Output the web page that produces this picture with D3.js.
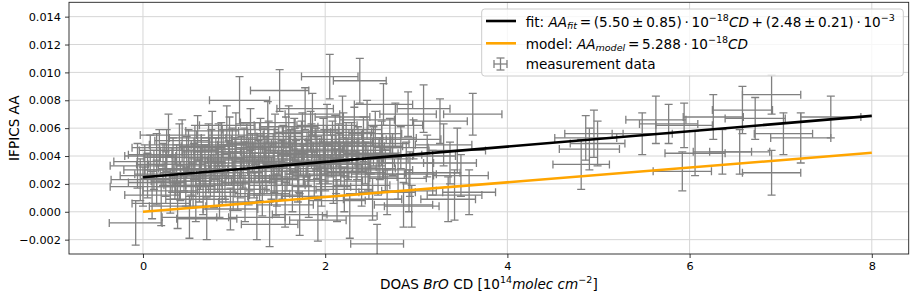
<!DOCTYPE html>
<html><head><meta charset="utf-8">
<script src="https://cdn.jsdelivr.net/npm/d3@7"></script>
<style>
body{margin:0;background:#fff}
svg{display:block}
text{font-family:"DejaVu Sans",sans-serif;fill:#000}
</style>
</head><body>
<svg id="c" width="913" height="291"></svg>
<script>
// ---------- data (DOAS BrO CD in 1e14 molec/cm2, IFPICS AA) ----------
const measX = [
 -0.08,-0.06,-0.03,0.00,0.02,0.05,0.08,0.10,0.12,0.15,0.18,0.20,0.22,0.25,0.28,0.30,
 0.33,0.35,0.38,0.40,0.43,0.45,0.47,0.50,0.51,0.53,0.56,0.58,0.60,0.62,0.64,0.66,0.68,0.70,0.72,0.74,0.76,0.78,0.80,
 0.82,0.84,0.86,0.88,0.90,0.92,0.94,0.96,0.98,1.00,1.02,1.04,1.06,1.08,1.10,1.12,1.14,1.16,1.18,1.20,1.22,1.25,1.27,1.29,
 1.31,1.33,1.35,1.37,1.39,1.41,1.43,1.45,1.47,1.50,1.52,1.54,1.56,1.58,1.60,1.62,1.64,1.66,1.68,1.70,1.72,1.74,1.76,1.78,
 1.80,1.82,1.84,1.86,1.88,1.90,1.92,1.94,1.96,1.98,2.00,2.02,2.05,2.07,2.09,2.11,2.13,2.15,2.17,2.19,2.21,2.23,2.25,2.27,
 2.30,2.32,2.34,2.36,2.38,2.40,2.42,2.44,2.46,2.48,2.50,2.52,2.55,2.57,2.60,2.62,2.64,2.66,2.68,2.71,2.74,2.77,2.80,2.83,2.86,2.89,2.91,2.92,2.93,2.95,2.97,
 3.08,3.12,3.18,3.26,3.30,3.35,3.37,3.42,3.45,3.49,3.58,3.62,
 0.15,0.32,0.41,0.48,0.57,0.63,0.69,0.75,0.83,0.87,0.95,1.01,1.07,1.11,1.17,1.23,1.28,1.34,1.38,1.44,1.49,1.53,1.57,1.61,1.67,1.71,1.75,1.81,1.85,1.91,1.95,1.99,2.03,2.08,2.12,2.16,2.20,2.24,2.29,2.35,2.41,2.47,2.53,2.58,2.63,0.26,0.37,0.55,0.99,1.46,
 4.81,4.86,4.90,4.95,4.99,5.48,5.63,5.77,5.94,5.92,6.06,6.26,6.36,6.55,6.58,6.90,6.72,6.90,7.03,7.22,7.55
];
const measY = [
 -0.0008,0.0033,0.0023,0.0018,0.0036,0.0026,0.0040,0.0012,0.0030,0.0021,0.0046,0.0006,0.0034,0.0027,0.0055,0.0015,
 0.0039,0.0024,0.0004,0.0048,0.0051,0.0031,0.0018,0.0044,-0.0004,0.0028,0.0036,0.0009,0.0053,0.0022,0.0041,0.0014,0.0033,-0.0005,0.0047,0.0026,0.0058,0.0019,0.0038,
 0.0030,0.0011,0.0050,0.0043,0.0024,0.0062,0.0035,0.0002,0.0045,0.0028,0.0055,0.0016,0.0080,0.0039,0.0033,0.0007,0.0048,0.0021,0.0059,0.0042,0.0026,-0.0004,0.0036,0.0052,
 0.0013,0.0046,0.0031,0.0064,-0.0009,0.0024,0.0040,0.0056,0.0019,0.0087,0.0035,0.0047,0.0005,0.0029,0.0061,0.0043,0.0015,0.0052,0.0037,0.0023,-0.0002,0.0049,0.0033,0.0074,
 0.0041,0.0011,0.0058,0.0070,0.0027,0.0045,-0.0006,0.0036,0.0018,0.0052,0.0031,0.0062,0.0097,0.0040,0.0022,0.0055,0.0008,0.0047,0.0034,0.0068,0.0016,0.0050,0.0038,-0.0003,
 0.0044,0.0059,0.0028,0.0047,0.0094,0.0019,0.0052,0.0035,0.0066,0.0025,0.0042,0.0009,0.0056,-0.0023,0.0038,0.0049,0.0077,0.0030,0.0014,0.0053,0.0041,0.0062,0.0024,0.0046,0.0005,0.0035,0.0070,0.0015,0.0027,0.0004,0.0052,
 0.0074,0.0040,0.0028,0.0065,0.0048,0.0009,0.0035,0.0012,0.0044,0.0026,0.0014,0.0070,
 0.0041,0.0030,0.0022,0.0039,0.0046,0.0031,0.0025,0.0043,0.0048,0.0020,0.0053,0.0037,0.0024,0.0045,0.0031,0.0049,0.0022,0.0038,0.0050,0.0029,0.0042,0.0025,0.0054,0.0034,0.0044,0.0029,0.0057,0.0035,0.0048,0.0039,0.0026,0.0043,0.0034,0.0050,0.0029,0.0041,0.0057,0.0032,0.0049,0.0038,0.0044,0.0031,0.0047,0.0027,0.0040,0.0044,0.0034,0.0019,0.0016,0.0012,
 0.0034,0.0053,0.0045,0.0056,0.0049,0.0056,0.0066,0.0063,0.0062,0.0029,0.0042,0.0068,0.0043,0.0043,0.0073,0.0084,0.0067,0.0028,0.0056,0.0053,0.0068
];
const measXErr = [
 0.29,0.30,0.32,0.36,0.34,0.30,0.28,0.30,0.33,0.31,0.30,0.32,0.29,0.34,0.31,0.30,
 0.32,0.30,0.31,0.33,0.30,0.28,0.32,0.31,0.30,0.34,0.30,0.33,0.31,0.29,0.32,0.30,0.31,0.33,0.30,0.32,0.29,0.31,0.30,
 0.33,0.31,0.30,0.32,0.29,0.30,0.31,0.30,0.33,0.31,0.30,0.32,0.33,0.30,0.31,0.29,0.32,0.30,0.31,0.33,0.30,0.31,0.29,0.32,
 0.30,0.31,0.33,0.30,0.31,0.29,0.32,0.30,0.31,0.32,0.30,0.33,0.31,0.30,0.32,0.29,0.31,0.30,0.32,0.31,0.30,0.33,0.30,0.31,
 0.32,0.30,0.31,0.30,0.32,0.29,0.31,0.30,0.32,0.31,0.30,0.33,0.31,0.30,0.32,0.29,0.31,0.30,0.32,0.30,0.31,0.29,0.32,0.30,
 0.31,0.30,0.32,0.29,0.29,0.31,0.30,0.32,0.30,0.31,0.30,0.32,0.29,0.29,0.31,0.30,0.32,0.30,0.31,0.29,0.32,0.30,0.31,0.30,0.32,0.30,0.31,0.30,0.29,0.30,0.30,
 0.29,0.31,0.30,0.30,0.31,0.30,0.29,0.30,0.31,0.30,0.29,0.32,
 0.31,0.30,0.32,0.29,0.33,0.30,0.31,0.32,0.30,0.29,0.31,0.30,0.32,0.29,0.33,0.30,0.31,0.32,0.30,0.29,0.31,0.30,0.32,0.29,0.33,0.30,0.31,0.32,0.30,0.29,0.31,0.30,0.32,0.29,0.33,0.30,0.31,0.32,0.30,0.29,0.31,0.30,0.32,0.29,0.33,0.30,0.31,0.32,0.30,0.29,
 0.31,0.34,0.33,0.32,0.30,0.33,0.33,0.32,0.31,0.32,0.33,0.33,0.32,0.33,0.33,0.32,0.33,0.32,0.32,0.33,0.33
];
const measYErr = [
 0.0016,0.0016,0.0015,0.0014,0.0012,0.0016,0.0015,0.0017,0.0014,0.0016,0.0013,0.0016,0.0015,0.0016,0.0015,0.0016,
 0.0014,0.0015,0.0016,0.0015,0.0015,0.0016,0.0014,0.0015,0.0015,0.0016,0.0013,0.0016,0.0016,0.0015,0.0014,0.0016,0.0015,0.0015,0.0016,0.0015,0.0014,0.0016,0.0015,
 0.0016,0.0015,0.0014,0.0016,0.0015,0.0014,0.0016,0.0015,0.0015,0.0014,0.0016,0.0015,0.0017,0.0015,0.0016,0.0014,0.0015,0.0016,0.0015,0.0014,0.0016,0.0016,0.0015,0.0015,
 0.0016,0.0014,0.0015,0.0015,0.0016,0.0015,0.0016,0.0014,0.0015,0.0015,0.0016,0.0015,0.0016,0.0014,0.0015,0.0016,0.0015,0.0015,0.0014,0.0016,0.0015,0.0016,0.0015,0.0015,
 0.0016,0.0015,0.0014,0.0015,0.0016,0.0015,0.0015,0.0016,0.0014,0.0015,0.0016,0.0015,0.0016,0.0015,0.0016,0.0014,0.0015,0.0016,0.0015,0.0015,0.0016,0.0014,0.0015,0.0016,
 0.0015,0.0016,0.0015,0.0014,0.0016,0.0015,0.0016,0.0015,0.0014,0.0016,0.0015,0.0015,0.0016,0.0014,0.0015,0.0016,0.0015,0.0015,0.0016,0.0014,0.0015,0.0016,0.0015,0.0015,0.0016,0.0015,0.0016,0.0015,0.0016,0.0015,0.0014,
 0.0017,0.0015,0.0016,0.0016,0.0015,0.0016,0.0015,0.0018,0.0016,0.0015,0.0016,0.0015,
 0.0015,0.0016,0.0014,0.0015,0.0016,0.0015,0.0014,0.0016,0.0015,0.0015,0.0015,0.0016,0.0014,0.0015,0.0016,0.0015,0.0014,0.0016,0.0015,0.0015,0.0015,0.0016,0.0014,0.0015,0.0016,0.0015,0.0014,0.0016,0.0015,0.0015,0.0015,0.0016,0.0014,0.0015,0.0016,0.0015,0.0014,0.0016,0.0015,0.0015,0.0015,0.0016,0.0014,0.0015,0.0016,0.0015,0.0014,0.0016,0.0015,0.0015,
 0.0018,0.0016,0.0015,0.0017,0.0016,0.0015,0.0017,0.0014,0.0016,0.0014,0.0016,0.0016,0.0016,0.0016,0.0017,0.0014,0.0015,0.0016,0.0015,0.0018,0.0015
];
// fit and model lines: AA = slope * CD(1e14) + intercept
const fitSlope = 5.50e-4, fitIntercept = 2.48e-3;
const modelSlope = 5.288e-4, modelIntercept = 0;
const lineCD = [0, 8];
const xTicks = [0, 2, 4, 6, 8];
const yTicks = [-0.002, 0, 0.002, 0.004, 0.006, 0.008, 0.010, 0.012, 0.014];
const xDomain = [-0.812, 8.405];
const yDomain = [-0.00303, 0.01503];

// ---------- layout ----------
const svg = d3.select("#c");
const P = {l: 69, r: 908.7, t: 2.3, b: 254};
const x = d3.scaleLinear().domain(xDomain).range([P.l, P.r]);
const y = d3.scaleLinear().domain(yDomain).range([P.b, P.t]);
const GRAY = "#808080", GRID = "#d6d6d6";
const tickFs = 11.3, labFs = 13.6;

svg.append("rect").attr("width", 913).attr("height", 291).attr("fill", "#fff");
svg.append("defs").append("clipPath").attr("id", "pc")
  .append("rect").attr("x", P.l).attr("y", P.t).attr("width", P.r - P.l).attr("height", P.b - P.t);

// grid
const grid = svg.append("g");
grid.selectAll(".gx").data(xTicks).join("line")
  .attr("x1", d => x(d)).attr("x2", d => x(d)).attr("y1", P.t).attr("y2", P.b)
  .attr("stroke", GRID).attr("stroke-width", 1);
grid.selectAll(".gy").data(yTicks).join("line")
  .attr("y1", d => y(d)).attr("y2", d => y(d)).attr("x1", P.l).attr("x2", P.r)
  .attr("stroke", GRID).attr("stroke-width", 1);

// error bars
const n = Math.min(measX.length, measY.length, measXErr.length, measYErr.length);
const pts = d3.range(n).map(i => ({x: measX[i], y: measY[i], xe: measXErr[i], ye: measYErr[i]}));
const cap = 4;
const eb = svg.append("g").attr("clip-path", "url(#pc)")
  .attr("stroke", GRAY).attr("stroke-width", 1.3).attr("fill", "none");
const g = eb.selectAll("g").data(pts).join("g");
g.append("line").attr("x1", d => x(d.x - d.xe)).attr("x2", d => x(d.x + d.xe)).attr("y1", d => y(d.y)).attr("y2", d => y(d.y));
g.append("line").attr("x1", d => x(d.x)).attr("x2", d => x(d.x)).attr("y1", d => y(d.y - d.ye)).attr("y2", d => y(d.y + d.ye));
g.append("line").attr("x1", d => x(d.x - d.xe)).attr("x2", d => x(d.x - d.xe)).attr("y1", d => y(d.y) - cap).attr("y2", d => y(d.y) + cap);
g.append("line").attr("x1", d => x(d.x + d.xe)).attr("x2", d => x(d.x + d.xe)).attr("y1", d => y(d.y) - cap).attr("y2", d => y(d.y) + cap);
g.append("line").attr("x1", d => x(d.x) - cap).attr("x2", d => x(d.x) + cap).attr("y1", d => y(d.y - d.ye)).attr("y2", d => y(d.y - d.ye));
g.append("line").attr("x1", d => x(d.x) - cap).attr("x2", d => x(d.x) + cap).attr("y1", d => y(d.y + d.ye)).attr("y2", d => y(d.y + d.ye));

// fit + model lines
const lineGen = (s, b) => d3.line().x(d => x(d)).y(d => y(s * d + b));
svg.append("path").datum(lineCD).attr("d", lineGen(fitSlope, fitIntercept))
  .attr("stroke", "#000").attr("stroke-width", 2.6).attr("fill", "none");
svg.append("path").datum(lineCD).attr("d", lineGen(modelSlope, modelIntercept))
  .attr("stroke", "#ffa500").attr("stroke-width", 2.6).attr("fill", "none");

// axes
const ax = svg.append("g").attr("transform", `translate(0,${P.b})`)
  .call(d3.axisBottom(x).tickValues(xTicks).tickFormat(d3.format("d")).tickSize(4).tickPadding(4));
const ay = svg.append("g").attr("transform", `translate(${P.l},0)`)
  .call(d3.axisLeft(y).tickValues(yTicks).tickFormat(d3.format(".3f")).tickSize(4).tickPadding(4));
[ax, ay].forEach(a => {
  a.select(".domain").remove();
  a.selectAll(".tick line").attr("stroke", "#222").attr("stroke-width", 0.9);
  a.selectAll(".tick text").attr("font-size", tickFs).attr("font-family", "DejaVu Sans").attr("fill", "#000");
});
svg.append("rect").attr("x", P.l).attr("y", P.t).attr("width", P.r - P.l).attr("height", P.b - P.t)
  .attr("fill", "none").attr("stroke", "#222").attr("stroke-width", 0.9);

// rich text helper
function rich(t, segs, fs) {
  let cur = 0;
  segs.forEach(([s, it, pos]) => {
    const target = pos === "sup" ? -0.42 * fs : pos === "sub" ? 0.22 * fs : 0;
    const ts = t.append("tspan").text(s)
      .attr("font-size", pos ? fs * 0.7 : fs)
      .attr("font-style", it ? "italic" : "normal");
    if (target !== cur) { ts.attr("dy", target - cur); cur = target; }
  });
}
const TS = "\u2009";

// axis labels
rich(svg.append("text").attr("x", (P.l + P.r) / 2).attr("y", 288.5).attr("text-anchor", "middle"),
  [["DOAS ", 0], ["BrO", 1], [" CD [10", 0], ["14", 0, "sup"], ["molec cm", 1], ["\u22122", 0, "sup"], ["]", 0]], labFs);
svg.append("text").attr("transform", `translate(19,${(P.t + P.b) / 2}) rotate(-90)`)
  .attr("text-anchor", "middle").attr("font-size", labFs).text("IFPICS AA");

// legend
const L = svg.append("g");
L.append("rect").attr("x", 481.7).attr("y", 9).attr("width", 421.6).attr("height", 67).attr("rx", 3)
  .attr("fill", "#fff").attr("fill-opacity", 0.8).attr("stroke", "#cccccc").attr("stroke-width", 1);
L.append("line").attr("x1", 486).attr("x2", 516).attr("y1", 21).attr("y2", 21).attr("stroke", "#000").attr("stroke-width", 2.6);
L.append("line").attr("x1", 486).attr("x2", 516).attr("y1", 43.3).attr("y2", 43.3).attr("stroke", "#ffa500").attr("stroke-width", 2.6);
const lh = L.append("g").attr("stroke", GRAY).attr("stroke-width", 1.3);
const hx = 500.5, hy = 64, hw = 6.5, hh = 6;
lh.append("line").attr("x1", hx - hw).attr("x2", hx + hw).attr("y1", hy).attr("y2", hy);
lh.append("line").attr("x1", hx).attr("x2", hx).attr("y1", hy - hh).attr("y2", hy + hh);
lh.append("line").attr("x1", hx - hw).attr("x2", hx - hw).attr("y1", hy - 4).attr("y2", hy + 4);
lh.append("line").attr("x1", hx + hw).attr("x2", hx + hw).attr("y1", hy - 4).attr("y2", hy + 4);
lh.append("line").attr("x1", hx - 4).attr("x2", hx + 4).attr("y1", hy - hh).attr("y2", hy - hh);
lh.append("line").attr("x1", hx - 4).attr("x2", hx + 4).attr("y1", hy + hh).attr("y2", hy + hh);

rich(L.append("text").attr("x", 525.7).attr("y", 26.5),
  [["fit: ", 0], ["AA", 1], ["fit", 1, "sub"], [TS + "=" + TS + "(5.50" + TS + "\u00b1" + TS + "0.85)" + TS + "\u00b7" + TS + "10", 0],
   ["\u221218", 0, "sup"], ["CD", 1], [TS + "+" + TS + "(2.48" + TS + "\u00b1" + TS + "0.21)" + TS + "\u00b7" + TS + "10", 0], ["\u22123", 0, "sup"]], labFs);
rich(L.append("text").attr("x", 525.7).attr("y", 48.5),
  [["model: ", 0], ["AA", 1], ["model", 1, "sub"], [TS + "=" + TS + "5.288" + TS + "\u00b7" + TS + "10", 0], ["\u221218", 0, "sup"], ["CD", 1]], labFs);
L.append("text").attr("x", 525.7).attr("y", 69.3).attr("font-size", labFs).text("measurement data");
</script>
</body></html>
